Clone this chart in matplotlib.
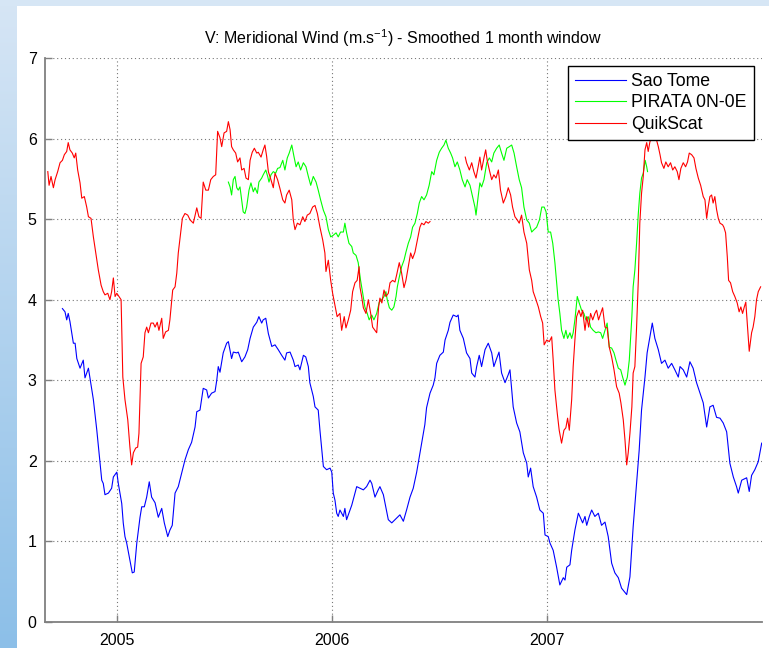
import numpy as np
import matplotlib
matplotlib.use("Agg")
import matplotlib.pyplot as plt
from matplotlib.patches import Rectangle

plt.rcParams['font.family'] = ['Liberation Sans', 'DejaVu Sans']
plt.rcParams['mathtext.default'] = 'regular'

# ---------------- data (decimal years, m/s) ----------------
sao_tome_t = [2004.746, 2004.758, 2004.766, 2004.773, 2004.781, 2004.797, 2004.805, 2004.813, 2004.828, 2004.843,
              2004.851, 2004.867, 2004.874, 2004.890, 2004.906, 2004.921, 2004.929, 2004.936, 2004.944, 2004.960,
              2004.975, 2004.983, 2004.999, 2005.006, 2005.022, 2005.029, 2005.037, 2005.045, 2005.060, 2005.071,
              2005.080, 2005.092, 2005.107, 2005.115, 2005.127, 2005.138, 2005.150, 2005.161, 2005.177, 2005.192,
              2005.208, 2005.220, 2005.236, 2005.246, 2005.257, 2005.270, 2005.285, 2005.301, 2005.316, 2005.332,
              2005.347, 2005.363, 2005.371, 2005.386, 2005.401, 2005.417, 2005.425, 2005.440, 2005.456, 2005.464,
              2005.471, 2005.479, 2005.494, 2005.510, 2005.518, 2005.533, 2005.541, 2005.557, 2005.564, 2005.580,
              2005.595, 2005.608, 2005.619, 2005.634, 2005.650, 2005.660, 2005.673, 2005.680, 2005.692, 2005.704,
              2005.720, 2005.735, 2005.750, 2005.766, 2005.781, 2005.789, 2005.805, 2005.820, 2005.828, 2005.843,
              2005.851, 2005.867, 2005.878, 2005.890, 2005.897, 2005.913, 2005.921, 2005.936, 2005.944, 2005.960,
              2005.975, 2005.991, 2005.999, 2006.006, 2006.014, 2006.022, 2006.029, 2006.037, 2006.053, 2006.060,
              2006.068, 2006.084, 2006.092, 2006.107, 2006.115, 2006.130, 2006.146, 2006.161, 2006.177, 2006.185,
              2006.200, 2006.215, 2006.223, 2006.239, 2006.262, 2006.278, 2006.293, 2006.308, 2006.316, 2006.332,
              2006.347, 2006.363, 2006.378, 2006.394, 2006.401, 2006.417, 2006.432, 2006.440, 2006.456, 2006.471,
              2006.479, 2006.487, 2006.502, 2006.518, 2006.526, 2006.541, 2006.549, 2006.564, 2006.580, 2006.587,
              2006.595, 2006.611, 2006.626, 2006.642, 2006.650, 2006.665, 2006.673, 2006.685, 2006.696, 2006.712,
              2006.727, 2006.743, 2006.753, 2006.766, 2006.777, 2006.789, 2006.805, 2006.820, 2006.828, 2006.843,
              2006.859, 2006.874, 2006.890, 2006.906, 2006.913, 2006.924, 2006.936, 2006.952, 2006.967, 2006.983,
              2006.991, 2007.006, 2007.014, 2007.029, 2007.045, 2007.060, 2007.076, 2007.084, 2007.092, 2007.107,
              2007.115, 2007.130, 2007.146, 2007.153, 2007.166, 2007.177, 2007.185, 2007.197, 2007.208, 2007.223,
              2007.239, 2007.254, 2007.270, 2007.285, 2007.301, 2007.316, 2007.332, 2007.347, 2007.371, 2007.386,
              2007.401, 2007.417, 2007.429, 2007.440, 2007.456, 2007.466, 2007.479, 2007.490, 2007.502, 2007.518,
              2007.533, 2007.549, 2007.564, 2007.580, 2007.595, 2007.611, 2007.619, 2007.634, 2007.650, 2007.665,
              2007.680, 2007.696, 2007.712, 2007.727, 2007.743, 2007.758, 2007.773, 2007.789, 2007.805, 2007.820,
              2007.836, 2007.851, 2007.867, 2007.882, 2007.890, 2007.906, 2007.929, 2007.941, 2007.952, 2007.967,
              2007.983, 2007.999]
sao_tome_v = [3.89, 3.85, 3.75, 3.83, 3.73, 3.46, 3.46, 3.27, 3.15, 3.25,
              3.03, 3.15, 3.03, 2.76, 2.38, 1.97, 1.76, 1.72, 1.58, 1.60,
              1.66, 1.80, 1.86, 1.72, 1.47, 1.23, 1.06, 0.98, 0.77, 0.61,
              0.62, 0.98, 1.30, 1.43, 1.43, 1.55, 1.74, 1.55, 1.48, 1.30,
              1.41, 1.23, 1.06, 1.14, 1.20, 1.60, 1.68, 1.85, 2.01, 2.14,
              2.23, 2.42, 2.61, 2.63, 2.90, 2.88, 2.78, 2.84, 2.86, 3.00,
              3.17, 3.10, 3.34, 3.46, 3.48, 3.27, 3.35, 3.34, 3.35, 3.23,
              3.29, 3.38, 3.52, 3.66, 3.72, 3.79, 3.71, 3.75, 3.77, 3.58,
              3.42, 3.44, 3.38, 3.31, 3.25, 3.34, 3.35, 3.25, 3.17, 3.19,
              3.13, 3.31, 3.29, 3.17, 2.97, 2.80, 2.67, 2.63, 2.38, 1.93,
              1.89, 1.91, 1.86, 1.60, 1.51, 1.35, 1.31, 1.39, 1.31, 1.41,
              1.27, 1.39, 1.45, 1.60, 1.68, 1.66, 1.64, 1.68, 1.76, 1.72,
              1.55, 1.64, 1.68, 1.58, 1.27, 1.23, 1.27, 1.31, 1.33, 1.25,
              1.39, 1.55, 1.66, 1.86, 1.97, 2.22, 2.45, 2.66, 2.84, 2.94,
              3.03, 3.21, 3.31, 3.35, 3.50, 3.62, 3.72, 3.81, 3.79, 3.81,
              3.62, 3.52, 3.34, 3.27, 3.09, 3.04, 3.17, 3.31, 3.17, 3.38,
              3.46, 3.34, 3.17, 3.27, 3.35, 3.09, 2.97, 3.07, 3.13, 2.67,
              2.47, 2.36, 2.10, 1.97, 1.80, 1.91, 1.68, 1.55, 1.39, 1.35,
              1.08, 1.06, 0.98, 0.89, 0.68, 0.46, 0.55, 0.52, 0.68, 0.71,
              0.89, 1.14, 1.35, 1.31, 1.23, 1.31, 1.20, 1.31, 1.39, 1.31,
              1.35, 1.20, 1.24, 1.06, 0.73, 0.61, 0.55, 0.42, 0.34, 0.56,
              1.18, 1.72, 2.13, 2.63, 3.04, 3.34, 3.54, 3.71, 3.52, 3.38,
              3.21, 3.25, 3.15, 3.21, 3.13, 3.04, 3.17, 3.13, 3.04, 3.23,
              3.15, 2.97, 2.84, 2.72, 2.42, 2.67, 2.69, 2.54, 2.53, 2.47,
              2.36, 1.97, 1.80, 1.68, 1.60, 1.76, 1.79, 1.62, 1.82, 1.89,
              1.99, 2.22]

pirata_t = [2005.518, 2005.526, 2005.533, 2005.541, 2005.549, 2005.557, 2005.564, 2005.572, 2005.580, 2005.587,
            2005.595, 2005.603, 2005.614, 2005.623, 2005.634, 2005.642, 2005.653, 2005.660, 2005.673, 2005.680,
            2005.692, 2005.701, 2005.707, 2005.716, 2005.727, 2005.738, 2005.747, 2005.758, 2005.771, 2005.781,
            2005.792, 2005.801, 2005.813, 2005.823, 2005.833, 2005.843, 2005.854, 2005.867, 2005.879, 2005.890,
            2005.901, 2005.913, 2005.926, 2005.936, 2005.947, 2005.960, 2005.972, 2005.983, 2005.994, 2006.006,
            2006.019, 2006.029, 2006.040, 2006.053, 2006.060, 2006.068, 2006.079, 2006.092, 2006.099, 2006.112,
            2006.122, 2006.133, 2006.143, 2006.153, 2006.164, 2006.173, 2006.185, 2006.195, 2006.208, 2006.220,
            2006.231, 2006.242, 2006.251, 2006.257, 2006.267, 2006.278, 2006.288, 2006.298, 2006.304, 2006.313,
            2006.324, 2006.335, 2006.344, 2006.355, 2006.366, 2006.375, 2006.386, 2006.397, 2006.406, 2006.417,
            2006.428, 2006.440, 2006.452, 2006.464, 2006.474, 2006.487, 2006.499, 2006.510, 2006.521, 2006.530,
            2006.541, 2006.552, 2006.561, 2006.572, 2006.583, 2006.595, 2006.606, 2006.619, 2006.629, 2006.642,
            2006.654, 2006.665, 2006.670, 2006.680, 2006.688, 2006.696, 2006.707, 2006.720, 2006.732, 2006.743,
            2006.753, 2006.766, 2006.778, 2006.789, 2006.800, 2006.813, 2006.825, 2006.836, 2006.847, 2006.859,
            2006.871, 2006.882, 2006.893, 2006.906, 2006.918, 2006.929, 2006.940, 2006.952, 2006.965, 2006.976,
            2006.987, 2006.996, 2007.006, 2007.017, 2007.027, 2007.037, 2007.045, 2007.052, 2007.060, 2007.068,
            2007.079, 2007.088, 2007.096, 2007.107, 2007.115, 2007.122, 2007.130, 2007.141, 2007.150, 2007.161,
            2007.172, 2007.181, 2007.192, 2007.203, 2007.215, 2007.228, 2007.239, 2007.250, 2007.259, 2007.270,
            2007.280, 2007.290, 2007.301, 2007.312, 2007.321, 2007.332, 2007.343, 2007.352, 2007.363, 2007.374,
            2007.383, 2007.395, 2007.401, 2007.409, 2007.417, 2007.425, 2007.432, 2007.440, 2007.448, 2007.457,
            2007.464, 2007.468]
pirata_v = [5.46, 5.40, 5.30, 5.49, 5.53, 5.39, 5.36, 5.40, 5.24, 5.09,
            5.07, 5.15, 5.36, 5.45, 5.34, 5.39, 5.32, 5.46, 5.51, 5.55,
            5.61, 5.53, 5.46, 5.55, 5.59, 5.57, 5.63, 5.64, 5.73, 5.61,
            5.76, 5.82, 5.92, 5.78, 5.65, 5.71, 5.61, 5.70, 5.65, 5.53,
            5.42, 5.53, 5.46, 5.36, 5.24, 5.11, 5.03, 4.87, 4.78, 4.80,
            4.83, 4.78, 4.84, 4.84, 4.95, 4.83, 4.70, 4.66, 4.58, 4.55,
            4.46, 4.24, 4.08, 3.91, 3.83, 3.75, 3.81, 3.75, 3.83, 3.97,
            4.00, 4.04, 4.10, 4.00, 3.90, 3.87, 3.91, 4.04, 4.16, 4.28,
            4.41, 4.49, 4.59, 4.70, 4.78, 4.90, 4.95, 5.07, 5.20, 5.28,
            5.24, 5.30, 5.42, 5.59, 5.55, 5.73, 5.83, 5.88, 5.92, 5.98,
            5.88, 5.82, 5.76, 5.65, 5.71, 5.61, 5.49, 5.40, 5.49, 5.42,
            5.28, 5.15, 5.05, 5.28, 5.45, 5.40, 5.49, 5.70, 5.76, 5.71,
            5.82, 5.88, 5.92, 5.82, 5.73, 5.88, 5.90, 5.92, 5.82, 5.65,
            5.49, 5.39, 5.15, 4.99, 4.95, 4.84, 4.87, 4.90, 4.99, 5.15,
            5.15, 5.09, 4.84, 4.84, 4.70, 4.46, 4.21, 4.00, 3.83, 3.62,
            3.52, 3.62, 3.52, 3.59, 3.52, 3.59, 3.75, 4.04, 3.96, 3.87,
            3.83, 3.75, 3.79, 3.66, 3.62, 3.59, 3.60, 3.59, 3.52, 3.62,
            3.71, 3.41, 3.40, 3.34, 3.25, 3.15, 3.13, 3.04, 2.94, 3.04,
            3.25, 3.79, 4.16, 4.37, 4.70, 5.07, 5.32, 5.51, 5.57, 5.73,
            5.65, 5.59]

quikscat_t = [2004.678, 2004.684, 2004.693, 2004.704, 2004.712, 2004.724, 2004.735, 2004.746, 2004.755, 2004.766,
              2004.773, 2004.781, 2004.792, 2004.801, 2004.808, 2004.817, 2004.828, 2004.836, 2004.848, 2004.859,
              2004.867, 2004.879, 2004.890, 2004.901, 2004.913, 2004.926, 2004.936, 2004.944, 2004.957, 2004.967,
              2004.975, 2004.983, 2004.991, 2004.999, 2005.009, 2005.019, 2005.027, 2005.037, 2005.050, 2005.060,
              2005.068, 2005.076, 2005.087, 2005.096, 2005.102, 2005.107, 2005.112, 2005.122, 2005.130, 2005.138,
              2005.146, 2005.158, 2005.169, 2005.177, 2005.187, 2005.195, 2005.208, 2005.215, 2005.226, 2005.239,
              2005.246, 2005.259, 2005.270, 2005.278, 2005.285, 2005.296, 2005.304, 2005.316, 2005.329, 2005.340,
              2005.355, 2005.371, 2005.381, 2005.391, 2005.401, 2005.413, 2005.425, 2005.436, 2005.448, 2005.459,
              2005.468, 2005.479, 2005.487, 2005.498, 2005.510, 2005.518, 2005.526, 2005.533, 2005.541, 2005.552,
              2005.561, 2005.572, 2005.580, 2005.591, 2005.600, 2005.611, 2005.619, 2005.629, 2005.639, 2005.650,
              2005.657, 2005.670, 2005.680, 2005.688, 2005.696, 2005.704, 2005.716, 2005.727, 2005.735, 2005.747,
              2005.758, 2005.771, 2005.781, 2005.789, 2005.801, 2005.813, 2005.820, 2005.828, 2005.839, 2005.851,
              2005.864, 2005.874, 2005.885, 2005.897, 2005.910, 2005.921, 2005.932, 2005.944, 2005.957, 2005.967,
              2005.972, 2005.983, 2005.994, 2006.003, 2006.014, 2006.024, 2006.037, 2006.045, 2006.057, 2006.065,
              2006.076, 2006.087, 2006.096, 2006.107, 2006.117, 2006.126, 2006.130, 2006.138, 2006.146, 2006.158,
              2006.169, 2006.180, 2006.189, 2006.200, 2006.208, 2006.217, 2006.223, 2006.232, 2006.242, 2006.251,
              2006.262, 2006.270, 2006.282, 2006.293, 2006.301, 2006.313, 2006.324, 2006.335, 2006.344, 2006.355,
              2006.366, 2006.375, 2006.386, 2006.397, 2006.409, 2006.417, 2006.428, 2006.437, 2006.448, 2006.456,
              2006.540,
              2006.620, 2006.626, 2006.639, 2006.650, 2006.660, 2006.670, 2006.680, 2006.688, 2006.696, 2006.707,
              2006.715, 2006.722, 2006.732, 2006.743, 2006.753, 2006.763, 2006.774, 2006.784, 2006.797, 2006.809,
              2006.820, 2006.831, 2006.840, 2006.851, 2006.862, 2006.871, 2006.882, 2006.893, 2006.906, 2006.918,
              2006.929, 2006.936, 2006.949, 2006.960, 2006.971, 2006.980, 2006.987, 2006.999, 2007.011, 2007.022,
              2007.029, 2007.037, 2007.048, 2007.057, 2007.068, 2007.079, 2007.088, 2007.096, 2007.104, 2007.115,
              2007.122, 2007.130, 2007.138, 2007.149, 2007.158, 2007.166, 2007.177, 2007.185, 2007.194, 2007.203,
              2007.213, 2007.223, 2007.231, 2007.240, 2007.250, 2007.259, 2007.270, 2007.280, 2007.290, 2007.301,
              2007.312, 2007.324, 2007.336, 2007.344, 2007.355, 2007.363, 2007.371, 2007.378, 2007.386, 2007.395,
              2007.401, 2007.409, 2007.417, 2007.425, 2007.432, 2007.440, 2007.448, 2007.456, 2007.464, 2007.471,
              2007.479, 2007.487, 2007.497, 2007.510, 2007.518, 2007.526, 2007.533, 2007.544, 2007.553, 2007.564,
              2007.575, 2007.585, 2007.595, 2007.606, 2007.614, 2007.623, 2007.634, 2007.645, 2007.654, 2007.662,
              2007.673, 2007.684, 2007.693, 2007.704, 2007.715, 2007.727, 2007.735, 2007.743, 2007.750, 2007.758,
              2007.766, 2007.773, 2007.781, 2007.789, 2007.797, 2007.805, 2007.817, 2007.823, 2007.831, 2007.839,
              2007.845, 2007.854, 2007.864, 2007.874, 2007.885, 2007.894, 2007.902, 2007.910, 2007.918, 2007.925,
              2007.932, 2007.941, 2007.952, 2007.959, 2007.967, 2007.975, 2007.983, 2007.994]
quikscat_v = [5.59, 5.42, 5.53, 5.39, 5.49, 5.59, 5.70, 5.73, 5.80, 5.84,
              5.95, 5.86, 5.82, 5.76, 5.82, 5.61, 5.45, 5.26, 5.28, 5.15,
              5.03, 5.01, 4.78, 4.58, 4.37, 4.18, 4.10, 4.06, 4.08, 4.00,
              4.10, 4.27, 4.04, 4.08, 4.04, 4.00, 3.04, 2.76, 2.51, 2.17,
              1.95, 2.10, 2.16, 2.17, 2.34, 2.76, 3.21, 3.29, 3.59, 3.66,
              3.59, 3.71, 3.71, 3.66, 3.72, 3.62, 3.77, 3.52, 3.60, 3.62,
              3.75, 4.12, 4.16, 4.33, 4.58, 4.83, 5.01, 5.07, 5.05, 4.99,
              4.95, 5.14, 5.03, 5.01, 5.46, 5.36, 5.36, 5.49, 5.53, 5.55,
              6.09, 6.01, 5.90, 6.07, 6.09, 6.21, 6.11, 5.90, 5.86, 5.82,
              5.71, 5.76, 5.61, 5.63, 5.51, 5.49, 5.73, 5.83, 5.88, 5.82,
              5.83, 5.77, 5.86, 5.92, 5.78, 5.59, 5.49, 5.39, 5.57, 5.49,
              5.38, 5.24, 5.20, 5.30, 5.36, 5.24, 4.99, 4.87, 4.95, 4.93,
              5.03, 4.97, 5.05, 5.07, 5.15, 5.17, 5.07, 4.90, 4.74, 4.58,
              4.35, 4.49, 4.24, 4.08, 3.93, 3.79, 3.83, 3.62, 3.79, 3.65,
              3.75, 3.87, 4.10, 4.21, 4.24, 4.41, 4.16, 4.04, 3.90, 3.83,
              4.00, 3.83, 3.66, 3.62, 3.59, 3.91, 4.02, 3.96, 4.12, 4.04,
              4.08, 4.21, 4.24, 4.22, 4.31, 4.46, 4.33, 4.15, 4.24, 4.41,
              4.58, 4.51, 4.59, 4.74, 4.90, 4.95, 4.93, 4.97, 4.95, 4.97,
              np.nan,
              5.77, 5.70, 5.61, 5.70, 5.59, 5.51, 5.65, 5.77, 5.61, 5.76,
              5.86, 5.73, 5.61, 5.49, 5.55, 5.51, 5.61, 5.36, 5.20, 5.28,
              5.39, 5.30, 5.15, 5.03, 4.99, 4.95, 5.05, 4.84, 4.70, 4.37,
              4.24, 4.10, 4.00, 3.91, 3.79, 3.71, 3.44, 3.50, 3.48, 3.54,
              3.25, 2.88, 2.59, 2.38, 2.22, 2.38, 2.41, 2.53, 2.38, 2.76,
              3.17, 3.50, 3.79, 3.87, 3.79, 3.87, 3.62, 3.79, 3.66, 3.83,
              3.75, 3.83, 3.87, 3.75, 3.83, 3.90, 3.66, 3.65, 3.41, 3.29,
              3.13, 2.92, 2.84, 2.72, 2.51, 2.26, 1.95, 2.10, 2.34, 2.67,
              3.09, 3.17, 3.66, 4.24, 4.95, 5.32, 5.53, 5.86, 5.95, 5.84,
              5.96, 6.01, 6.02, 5.98, 5.90, 5.80, 5.70, 5.63, 5.71, 5.65,
              5.70, 5.61, 5.65, 5.59, 5.49, 5.63, 5.70, 5.65, 5.71, 5.82,
              5.80, 5.76, 5.63, 5.51, 5.42, 5.28, 5.24, 5.01, 5.15, 5.28,
              5.30, 5.20, 5.28, 5.12, 5.01, 4.95, 4.93, 4.90, 4.83, 4.53,
              4.24, 4.21, 4.10, 4.04, 3.96, 3.85, 3.91, 3.83, 3.91, 3.97,
              3.71, 3.36, 3.59, 3.66, 3.79, 4.00, 4.10, 4.16]

series_names = ['Sao Tome', 'PIRATA 0N-0E', 'QuikScat']
series_colors = ['#0000ff', '#00ff00', '#ff0000']
year_ticks = [2005, 2006, 2007]
year_labels = ['2005', '2006', '2007']
y_ticks = [0, 1, 2, 3, 4, 5, 6, 7]

# ---------------- figure ----------------
W, H = 769, 648
fig = plt.figure(figsize=(W / 100, H / 100), dpi=100, facecolor='white')

# slide-like background: gradient strip on the left, pale band on top
bg = fig.add_axes([0, 0, 17 / W, 1])
grad = np.linspace(0, 1, 256).reshape(-1, 1)
c_top = np.array([0.84, 0.90, 0.96])
c_bot = np.array([0.55, 0.75, 0.91])
img = c_top[None, None, :] * (1 - grad[:, :, None]) + c_bot[None, None, :] * grad[:, :, None]
bg.imshow(img, aspect='auto', extent=[0, 1, 0, 1], origin='upper')
bg.set_axis_off()
fig.patches.append(Rectangle((0, 1 - 6 / H), 1, 6 / H, transform=fig.transFigure,
                             facecolor='#d6e6f5', edgecolor='none', zorder=0))

ax = fig.add_axes([45 / W, (H - 622) / H, (761.7 - 45) / W, (622 - 58) / H])
for t, v, name, col in zip([sao_tome_t, pirata_t, quikscat_t],
                           [sao_tome_v, pirata_v, quikscat_v],
                           series_names, series_colors):
    ax.plot(t, v, color=col, lw=0.8, label=name)

ax.set_xlim(2004.665, 2007.999)
ax.set_ylim(0, 7)
ax.set_xticks(year_ticks)
ax.set_xticklabels(year_labels)
ax.set_yticks(y_ticks)
ax.grid(True, linestyle=(0, (1, 2.5)), color='#777777', linewidth=0.8)
for s in ['top', 'right']:
    ax.spines[s].set_visible(False)
for s in ['left', 'bottom']:
    ax.spines[s].set_color('#808080')
    ax.spines[s].set_linewidth(1.3)
ax.tick_params(direction='in', length=5, width=1, color='#808080', labelsize=11.5,
               labelcolor='black')
ax.tick_params(axis='x', pad=8)
ax.tick_params(axis='y', pad=6)

ax.set_title('V: Meridional Wind (m.s$^{-1}$) - Smoothed 1 month window',
             fontsize=11.5, pad=10)

leg = ax.legend(loc='upper right', bbox_to_anchor=(0.989, 0.986), borderaxespad=0,
                fontsize=12.7, fancybox=False, framealpha=1, edgecolor='black',
                handlelength=2.9, handletextpad=0.3, labelspacing=0.25, borderpad=0.4)
leg.get_frame().set_linewidth(1.0)

fig.savefig('out.png', dpi=100, facecolor=fig.get_facecolor())
